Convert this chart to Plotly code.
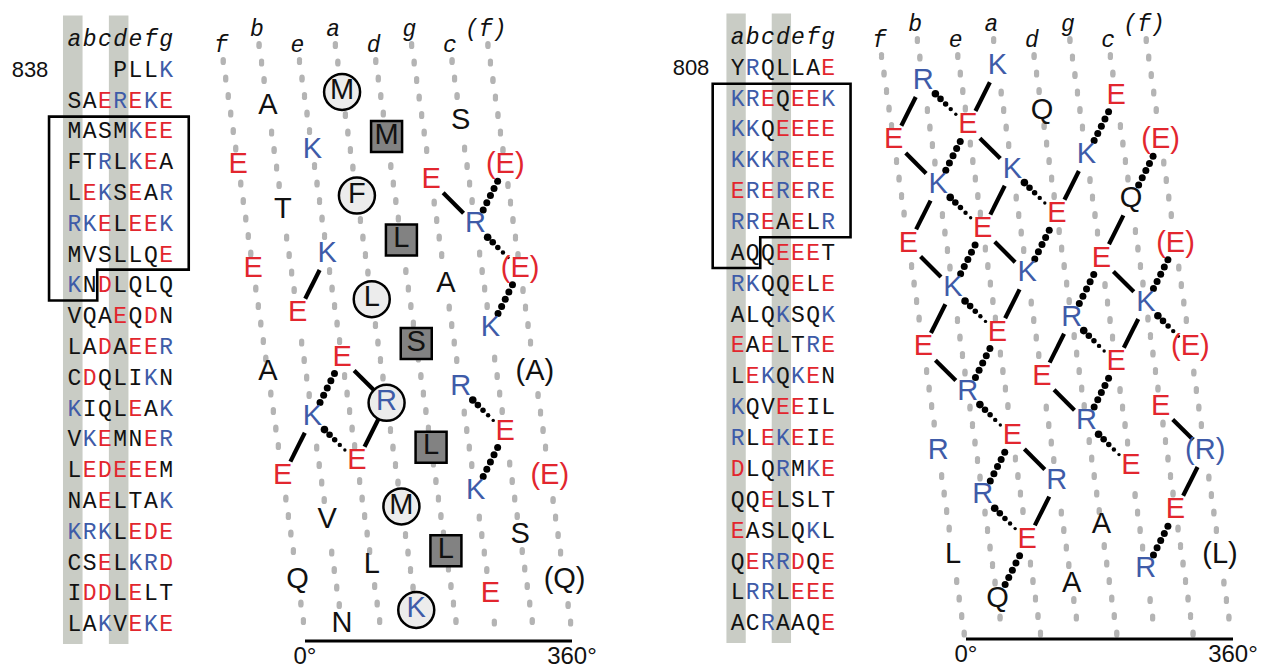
import plotly.graph_objects as go

W, H = 1267, 669

# ---------------- sequences (heptad rows as printed) ----------------
HEPTAD = "abcdefg"
NET_COLUMNS = ["f", "b", "e", "a", "d", "g", "c", "(f)"]

left_start_number = "838"
left_first_position = "d"
left_rows = ["PLLK", "SAEREKE", "MASMKEE", "FTRLKEA", "LEKSEAR", "RKELEEK",
             "MVSLLQE", "KNDLQLQ", "VQAEQDN", "LADAEER", "CDQLIKN", "KIQLEAK",
             "VKEMNER", "LEDEEEM", "NAELTAK", "KRKLEDE", "CSELKRD", "IDDLELT",
             "LAKVEKE"]
left_net_first = 11      # first boxed residue (M)
left_net_count = 37
left_phase = 50.0        # net angle of the first boxed residue (deg)

right_start_number = "808"
right_first_position = "a"
right_rows = ["YRQLLAE", "KREQEEK", "KKQEEEE", "KKKREEE", "ERERERE", "RREAELR",
              "AQQEEET", "RKQQELE", "ALQKSQK", "EAELTRE", "LEKQKEN", "KQVEEIL",
              "RLEKEIE", "DLQRMKE", "QQELSLT", "EASLQKL", "QERRDQE", "LRRLEEE",
              "ACRAAQE"]
right_net_first = 7      # first boxed residue (K)
right_net_count = 37
right_phase = 42.5

DEG_PER_RESIDUE = 100.0
DEGREE_TICKS = ["0°", "360°"]

# ionic pairs between boxed residues (indices counted inside the box)
left_solid = [(6, 9), (11, 15), (18, 21), (21, 25), (22, 26)]
left_dotted = [(5, 9), (9, 12), (12, 16), (18, 22), (22, 25), (20, 23), (23, 27)]
right_solid = [(0, 4), (1, 5), (4, 7), (5, 8), (6, 10), (7, 11), (8, 12), (11, 14),
               (12, 15), (14, 18), (15, 19), (9, 13), (13, 16), (16, 20), (17, 21),
               (21, 24), (19, 22), (25, 28), (28, 32), (23, 26), (26, 30)]
right_dotted = [(1, 4), (4, 8), (7, 10), (2, 6), (8, 11), (10, 14), (11, 15),
                (15, 18), (5, 9), (13, 17), (12, 16), (16, 19), (17, 20), (20, 24),
                (24, 27), (18, 22), (22, 25), (25, 29), (29, 32), (32, 36), (30, 34)]

# ---------------- styling / placement ----------------
SANS = "Arial, Liberation Sans, Helvetica, sans-serif"
MONO = "Courier New, Liberation Mono, monospace"
RED, BLUE, BLACK = "#e2262e", "#3e5ba8", "#111111"
GRID = "#b4b4b4"
STRIPE = "#c9ccc5"

PX_PER_DEG = 267.0 / 360.0
PX_PER_RES = 14.8

FRAMES = [
    dict(table_x0=74.3, table_dx=15.3, table_y0=71.0, table_dy=30.8,
         net_x0=305.0, net_y0=92.0, axis_y=641.0, label_y=30.0, number_x=30.0,
         axes=("x", "y", "x3", "y3")),
    dict(table_x0=737.6, table_dx=15.1, table_y0=69.0, table_dy=30.86,
         net_x0=966.0, net_y0=67.0, axis_y=639.0, label_y=25.0, number_x=691.0,
         axes=("x2", "y2", "x4", "y4")),
]


def colour(aa):
    if aa in "DE":
        return RED
    if aa in "KR":
        return BLUE
    return BLACK


fig = go.Figure()
shapes = []


def text_trace(xs, ys, texts, colours, size, family, xa, ya):
    fig.add_trace(go.Scatter(
        x=xs, y=ys, text=texts, mode="text", textposition="middle center",
        textfont=dict(family=family, size=size, color=colours),
        xaxis=xa, yaxis=ya, hoverinfo="skip", showlegend=False))


def panel(fr, rows, first_pos, number, net_first, net_count, phase,
          solid, dotted, mark_core):
    xn, yn, xt, yt = fr["axes"]
    seq = "".join(rows)
    off = HEPTAD.index(first_pos)

    # ---------- heptad table ----------
    for p in "ad":
        c = HEPTAD.index(p)
        shapes.append(dict(type="rect", xref=xt, yref=yt, x0=c - 0.74, x1=c + 0.54,
                           y0=-1.8, y1=len(rows) - 0.4, fillcolor=STRIPE,
                           line=dict(width=0), layer="below"))
    cols = [(off + s) % 7 for s in range(len(seq))]
    rws = [(off + s) // 7 for s in range(len(seq))]
    text_trace(cols, rws, list(seq), [colour(a) for a in seq], 23, MONO, xt, yt)
    text_trace(list(range(7)), [-1.0] * 7, ["<i>%s</i>" % h for h in HEPTAD],
               [BLACK] * 7, 23, MONO, xt, yt)
    text_trace([(fr["number_x"] - fr["table_x0"]) / fr["table_dx"]], [0], [number],
               [BLACK], 22, SANS, xt, yt)

    # box around the residues drawn in the net
    s0 = off + net_first
    s1 = s0 + net_count - 1
    r_top, r_end, c_end = s0 // 7, s1 // 7, s1 % 7
    left_edge, right_edge = -1.65, 7.48
    path = ("M {l},{t} L {r},{t} L {r},{m} L {s},{m} L {s},{b} L {l},{b} Z"
            .format(l=left_edge, r=right_edge, t=r_top - 0.52, m=r_end - 1 + 0.45,
                    s=c_end + 0.5, b=r_end + 0.45))
    shapes.append(dict(type="path", xref=xt, yref=yt, path=path,
                       line=dict(color="black", width=2.6)))

    # ---------- helical net ----------
    net_seq = seq[net_first:net_first + net_count]
    pos = [HEPTAD[(off + net_first + i) % 7] for i in range(net_count)]
    drift = (2 * 360.0 - 7 * DEG_PER_RESIDUE) / 7.0
    gap = 360.0 / 7.0
    i_f = pos.index("f")
    theta_f0 = ((phase - DEG_PER_RESIDUE * i_f) % 360.0) - 360.0

    def line_theta(col, u):
        return theta_f0 + drift * (u - i_f) + col * gap

    theta = []
    for i in range(net_count):
        raw = phase - DEG_PER_RESIDUE * i
        target = line_theta(NET_COLUMNS.index(pos[i]), i)
        theta.append(raw + 360.0 * round((target - raw) / 360.0))

    def to_px(th, u):
        return fr["net_x0"] + th * PX_PER_DEG, fr["net_y0"] + u * PX_PER_RES

    def from_px(px, py):
        return (px - fr["net_x0"]) / PX_PER_DEG, (py - fr["net_y0"]) / PX_PER_RES

    def copies(i):
        return [theta[i]] + ([theta[i] + 360.0] if pos[i] == "f" else [])

    centres = [to_px(t, i) for i in range(net_count) for t in copies(i)]

    # dotted helix-position guide lines (oval dots)
    gx, gy = [], []
    for col in range(len(NET_COLUMNS)):
        lab_px = fr["label_y"] + (0 if col % 2 else 16)
        py = lab_px + 15
        while py <= fr["axis_y"] - 5:
            u = (py - fr["net_y0"]) / PX_PER_RES
            th = line_theta(col, u)
            px, _ = to_px(th, u)
            if all((px - cx) ** 2 + (py - cy) ** 2 > 14 ** 2 for cx, cy in centres):
                for dy in (-1.4, 0.0, 1.4):
                    gx.append(th)
                    gy.append(u + dy / PX_PER_RES)
            py += 17.5
    fig.add_trace(go.Scatter(x=gx, y=gy, mode="markers",
                             marker=dict(size=5.2, color=GRID, line=dict(width=0)),
                             xaxis=xn, yaxis=yn, hoverinfo="skip", showlegend=False))

    # bottom 0-360 degree bar
    u_axis = (fr["axis_y"] - fr["net_y0"]) / PX_PER_RES
    shapes.append(dict(type="line", xref=xn, yref=yn, x0=0, x1=360, y0=u_axis,
                       y1=u_axis, line=dict(color="black", width=3)))
    u_deg = (fr["axis_y"] + 17 - fr["net_y0"]) / PX_PER_RES
    text_trace([0, 360], [u_deg, u_deg], DEGREE_TICKS, [BLACK, BLACK], 24, SANS, xn, yn)

    # column labels
    lx, ly, lt = [], [], []
    for col, name in enumerate(NET_COLUMNS):
        u = (fr["label_y"] + (0 if col % 2 else 16) - fr["net_y0"]) / PX_PER_RES
        lx.append(line_theta(col, u))
        ly.append(u)
        lt.append("<i>%s</i>" % name)
    text_trace(lx, ly, lt, [BLACK] * len(lt), 23, MONO, xn, yn)

    def pair(i, j):
        a, b = min(((p, q) for p in copies(i) for q in copies(j)),
                   key=lambda pq: abs(pq[0] - pq[1]))
        p1, p2 = to_px(a, i), to_px(b, j)
        dx, dy = p2[0] - p1[0], p2[1] - p1[1]
        L = (dx * dx + dy * dy) ** 0.5
        ux, uy = dx / L, dy / L
        trim = 17.0
        return (p1[0] + ux * trim, p1[1] + uy * trim), (p2[0] - ux * trim, p2[1] - uy * trim)

    # solid pairs
    sx, sy = [], []
    for i, j in solid:
        q1, q2 = pair(i, j)
        for q in (q1, q2):
            t, u = from_px(*q)
            sx.append(t)
            sy.append(u)
        sx.append(None)
        sy.append(None)
    fig.add_trace(go.Scatter(x=sx, y=sy, mode="lines",
                             line=dict(color="black", width=4.2),
                             xaxis=xn, yaxis=yn, hoverinfo="skip", showlegend=False))

    # dotted pairs (i -> i+3 taper towards the later residue)
    dx_, dy_, ds = [], [], []
    for i, j in dotted:
        a, b = (i, j) if i < j else (j, i)
        q1, q2 = pair(a, b)
        L = ((q2[0] - q1[0]) ** 2 + (q2[1] - q1[1]) ** 2) ** 0.5
        n = max(2, int(round(L / 7.6))) + 1
        for k in range(n):
            f = k / (n - 1)
            px = q1[0] + (q2[0] - q1[0]) * f
            py = q1[1] + (q2[1] - q1[1]) * f
            t, u = from_px(px, py)
            dx_.append(t)
            dy_.append(u)
            ds.append(7.6 - 4.2 * f if b - a == 3 else 7.0)
    fig.add_trace(go.Scatter(x=dx_, y=dy_, mode="markers",
                             marker=dict(size=ds, color="black", opacity=1,
                                         line=dict(width=0)),
                             xaxis=xn, yaxis=yn, hoverinfo="skip", showlegend=False))

    # core a / d residues
    if mark_core:
        for p, sym, size, fill in (("a", "circle", 36, "#ececec"),
                                   ("d", "square", 31, "#828282")):
            idx = [i for i in range(net_count) if pos[i] == p]
            fig.add_trace(go.Scatter(
                x=[theta[i] for i in idx], y=idx, mode="markers",
                marker=dict(symbol=sym, size=size, color=fill,
                            line=dict(color="black", width=2.5)),
                xaxis=xn, yaxis=yn, hoverinfo="skip", showlegend=False))

    # residue letters (f residues repeated at +360 deg in parentheses)
    tx, ty, tt, tc = [], [], [], []
    for i, aa in enumerate(net_seq):
        tx.append(theta[i]); ty.append(i); tt.append(aa); tc.append(colour(aa))
        if pos[i] == "f":
            tx.append(theta[i] + 360.0); ty.append(i); tt.append("(%s)" % aa)
            tc.append(colour(aa))
    text_trace(tx, ty, tt, tc, 29, SANS, xn, yn)


panel(FRAMES[0], left_rows, left_first_position, left_start_number, left_net_first,
      left_net_count, left_phase, left_solid, left_dotted, True)
panel(FRAMES[1], right_rows, right_first_position, right_start_number, right_net_first,
      right_net_count, right_phase, right_solid, right_dotted, False)


def xrange(px0, scale):
    return [(0 - px0) / scale, (W - px0) / scale]


def yrange(px0, scale):
    return [(H - px0) / scale, (0 - px0) / scale]


layout = dict(width=W, height=H, margin=dict(l=0, r=0, t=0, b=0),
              paper_bgcolor="white", plot_bgcolor="rgba(0,0,0,0)",
              showlegend=False, shapes=shapes)
common = dict(domain=[0, 1], visible=False, fixedrange=True, showgrid=False,
              zeroline=False)
for k, fr in enumerate(FRAMES):
    xn, yn, xt, yt = fr["axes"]
    for name, rng, anchor in (
            (xn, xrange(fr["net_x0"], PX_PER_DEG), yn),
            (yn, yrange(fr["net_y0"], PX_PER_RES), xn),
            (xt, xrange(fr["table_x0"], fr["table_dx"]), yt),
            (yt, yrange(fr["table_y0"], fr["table_dy"]), xt)):
        key = ("xaxis" if name[0] == "x" else "yaxis") + name[1:]
        layout[key] = dict(range=rng, anchor=anchor, **common)

fig.update_layout(**layout)
fig.write_html("out.html")
